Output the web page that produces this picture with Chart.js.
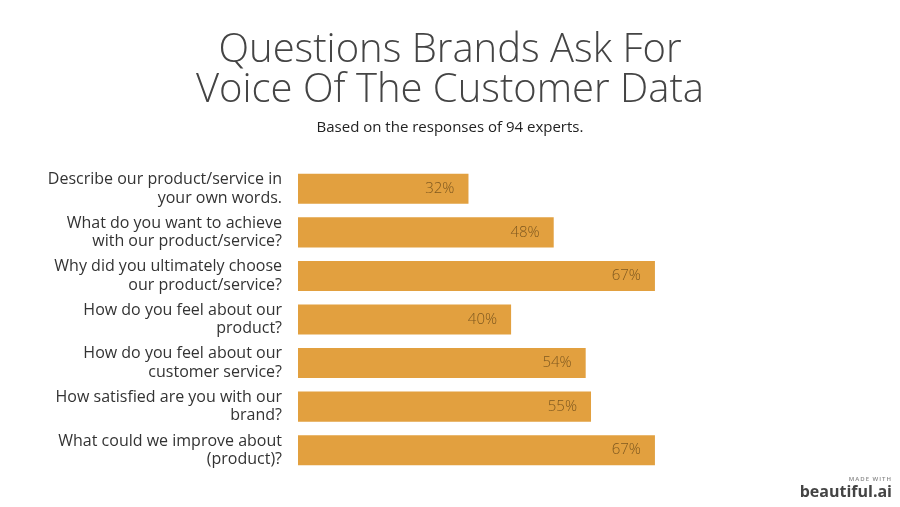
<!DOCTYPE html>
<html>

<head>
  <script src="https://cdn.jsdelivr.net/npm/chart.js@4/dist/chart.umd.min.js"></script>
  <style>
    body { margin: 0; background: #fff; }
    #wrap { position: relative; width: 900px; height: 507px; }
    #brand { position: absolute; right: 8px; bottom: 8px; text-align: right; font-family: 'Open Sans', sans-serif; }
    #brand .made { font-size: 6px; letter-spacing: 1px; color: #888; font-weight: 600; }
    #brand .name { font-size: 16px; font-weight: 700; color: #444; line-height: 16px; }
  </style>
</head>

<body>
  <div id="wrap">
    <canvas id="chart" width="900" height="507"></canvas>
    <div id="brand"><div class="made">MADE WITH</div><div class="name">beautiful.ai</div></div>
  </div>
  <script>
    var questions = [
      ['Describe our product/service in', 'your own words.'],
      ['What do you want to achieve', 'with our product/service?'],
      ['Why did you ultimately choose', 'our product/service?'],
      ['How do you feel about our', 'product?'],
      ['How do you feel about our', 'customer service?'],
      ['How satisfied are you with our', 'brand?'],
      ['What could we improve about', '(product)?']
    ];
    var shares = [32, 48, 67, 40, 54, 55, 67];

    var fontFamily = "'Open Sans', sans-serif";

    // value text drawn inside the end of each bar
    var barLabels = {
      id: 'barLabels',
      afterDatasetsDraw: function (chart) {
        var ctx = chart.ctx;
        var meta = chart.getDatasetMeta(0);
        ctx.save();
        ctx.font = '300 15px ' + fontFamily;
        ctx.fillStyle = 'rgba(60, 40, 10, 0.6)';
        ctx.textAlign = 'right';
        ctx.textBaseline = 'middle';
        meta.data.forEach(function (bar, i) {
          ctx.fillText(shares[i] + '%', bar.x - 14, bar.y);
        });
        ctx.restore();
      }
    };

    new Chart('chart', {
      type: 'bar',
      data: {
        labels: questions,
        datasets: [{
          data: shares,
          backgroundColor: '#E2A03F',
          borderWidth: 0,
          categoryPercentage: 1,
          barPercentage: 0.69
        }]
      },
      plugins: [barLabels],
      options: {
        responsive: false,
        animation: false,
        indexAxis: 'y',
        layout: { padding: { left: 0, right: 0, top: 0, bottom: 35 } },
        plugins: {
          legend: { display: false },
          tooltip: { enabled: false },
          title: {
            display: true,
            text: ['Questions Brands Ask For', 'Voice Of The Customer Data'],
            color: '#444',
            font: { family: fontFamily, size: 40, weight: 300, lineHeight: 1.0 },
            padding: { top: 31, bottom: 8 }
          },
          subtitle: {
            display: true,
            text: 'Based on the responses of 94 experts.',
            color: '#222',
            font: { family: fontFamily, size: 15, weight: 400 },
            padding: { top: 0, bottom: 30 }
          }
        },
        scales: {
          x: {
            display: false,
            min: 0,
            max: 113
          },
          y: {
            grid: { display: false },
            border: { display: false },
            afterFit: function (scale) { scale.width = 298; },
            ticks: {
              padding: 8,
              color: '#333',
              font: { family: fontFamily, size: 16, lineHeight: 1.15 }
            }
          }
        }
      }
    });
  </script>
</body>

</html>
